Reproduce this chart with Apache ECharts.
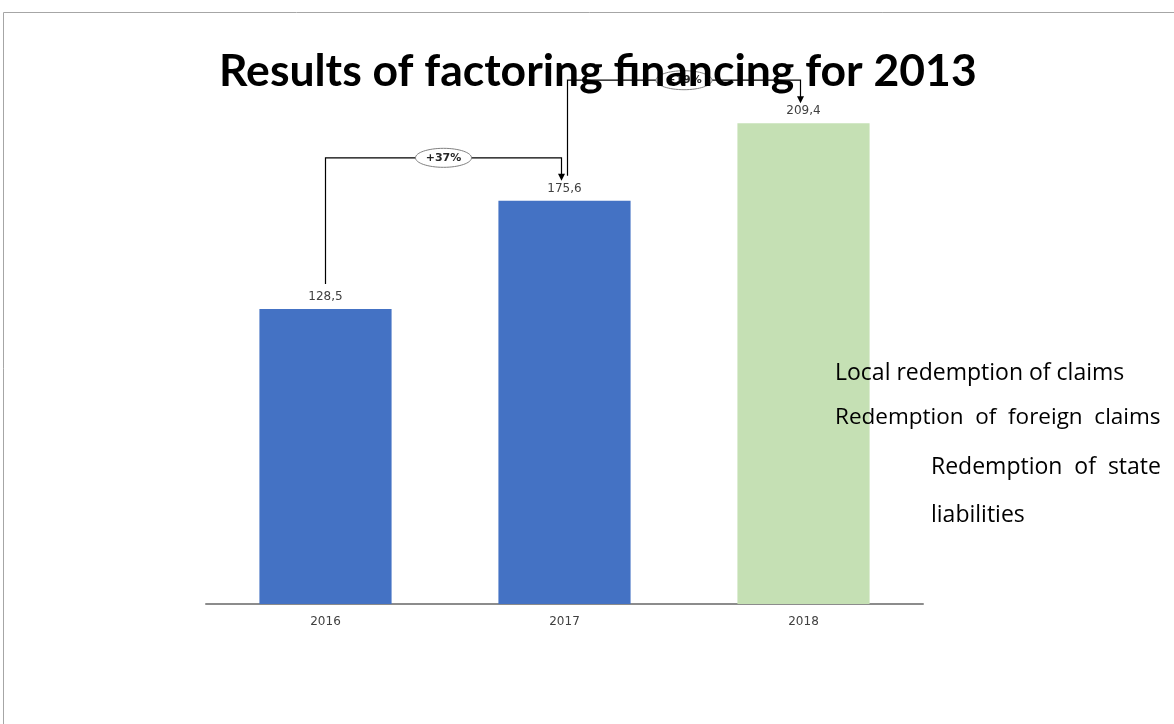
<!DOCTYPE html>
<html>
<head>
<meta charset="utf-8">
<script src="https://cdn.jsdelivr.net/npm/echarts@6/dist/echarts.min.js"></script>
<style>
  html, body { margin: 0; padding: 0; background: #fff; }
  #chart { width: 1174px; height: 724px; }
</style>
</head>
<body>
<div id="chart"></div>
<script>
// Factoring financing totals by year
const years = ['2016', '2017', '2018'];
const totals = [128.5, 175.6, 209.4];
const barColors = ['#4472C4', '#4472C4', '#C5E0B4'];
const sideNotes = [
  'Local redemption of claims',
  'Redemption  of  foreign  claims',
  'Redemption  of  state',
  'liabilities'
];

const chart = echarts.init(document.getElementById('chart'));

const fmt = v => String(v.toFixed(1)).replace('.', ',');

chart.setOption({
  animation: false,
  title: {
    text: 'Results of factoring financing for 2013',
    left: 214,
    top: 44,
    z: 20,
    textStyle: { fontFamily: 'Lato', fontWeight: 'bold', fontSize: 44.5, color: '#000' }
  },
  grid: { left: 206, right: 251, top: 30, bottom: 120 },
  xAxis: {
    type: 'category',
    data: years,
    axisTick: { show: false },
    axisLine: { lineStyle: { color: '#8c8c8c', width: 2 } },
    axisLabel: { color: '#404040', fontSize: 12, fontFamily: 'DejaVu Sans', margin: 12 }
  },
  yAxis: { type: 'value', min: 0, max: 250, show: false, splitLine: { show: false } },
  series: [{
    type: 'bar',
    barWidth: '55.3%',
    data: totals.map((v, i) => ({ value: v, itemStyle: { color: barColors[i] } })),
    label: {
      show: true,
      position: 'top',
      distance: 6,
      color: '#404040',
      fontSize: 12,
      fontFamily: 'DejaVu Sans',
      formatter: p => fmt(p.value)
    },
    z: 2
  }]
});

// Growth connectors between consecutive bars, placed through the chart's scales
function buildGraphics() {
  const els = [];
  // frame around the chart area
  els.push({
    type: 'rect', silent: true, z: 0,
    shape: { x: 3.5, y: 12.5, width: 1300, height: 800 },
    style: { fill: null, stroke: '#a6a6a6', lineWidth: 1 }
  });
  const pts = totals.map((v, i) => chart.convertToPixel({ seriesIndex: 0 }, [i, v]));
  for (let i = 0; i < totals.length - 1; i++) {
    const a = pts[i], b = pts[i + 1];
    const startX = a[0] + (i > 0 ? 3 : 0);
    const endX = b[0] - 3;
    const level = b[1] - 43;
    const startY = a[1] - 25;
    const arrowTip = b[1] - 20;
    els.push({
      type: 'polyline', silent: true, z: 5,
      shape: { points: [[startX, startY], [startX, level], [endX, level], [endX, arrowTip - 6]] },
      style: { stroke: '#000', lineWidth: 1.2, fill: null }
    });
    els.push({
      type: 'polygon', silent: true, z: 5,
      shape: { points: [[endX - 3.5, arrowTip - 7], [endX + 3.5, arrowTip - 7], [endX, arrowTip]] },
      style: { fill: '#000' }
    });
    const pct = Math.round((totals[i + 1] / totals[i] - 1) * 100);
    const cx = (startX + endX) / 2;
    els.push({
      type: 'ellipse', silent: true, z: 6,
      shape: { cx: cx, cy: level, rx: 28, ry: 9.5 },
      style: { fill: '#fff', stroke: '#7f7f7f', lineWidth: 1 }
    });
    els.push({
      type: 'text', silent: true, z: 7,
      x: cx, y: level,
      style: {
        text: '+' + pct + '%', fill: '#262626', fontSize: 11, fontWeight: 'bold',
        fontFamily: 'DejaVu Sans', align: 'center', verticalAlign: 'middle'
      }
    });
  }
  // side notes on the right
  const notePos = [[835, 373], [835, 418], [931, 467], [931, 515]];
  const noteSizes = [23, 22.5, 23, 23];
  sideNotes.forEach((t, i) => {
    els.push({
      type: 'text', silent: true, z: 8,
      x: notePos[i][0], y: notePos[i][1],
      style: {
        text: t, fill: '#000', fontSize: noteSizes[i], fontFamily: 'Open Sans',
        align: 'left', verticalAlign: 'middle'
      }
    });
  });
  return els;
}

chart.setOption({ graphic: { elements: buildGraphics() } });
</script>
</body>
</html>
